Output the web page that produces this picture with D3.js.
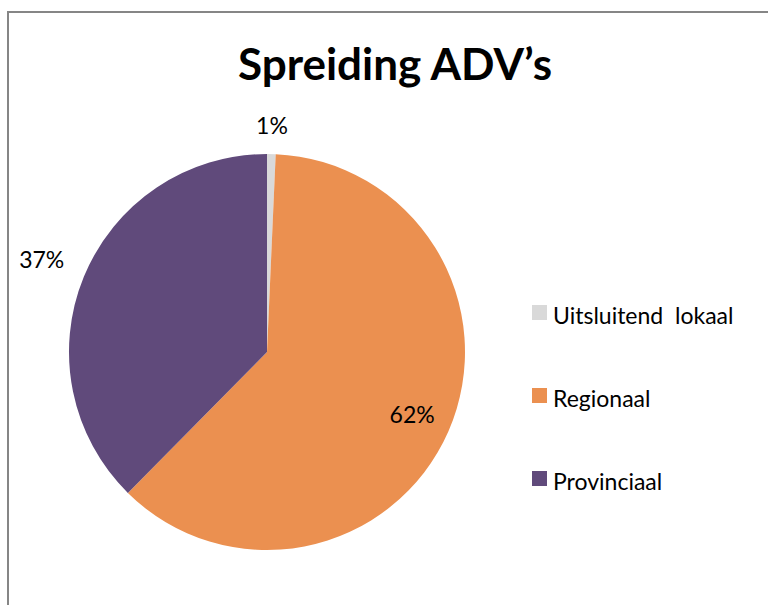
<!DOCTYPE html>
<html>
<head>
<meta charset="utf-8">
<script src="https://cdn.jsdelivr.net/npm/d3@7"></script>
<style>
  body { margin: 0; background: #fff; }
  svg { display: block; }
  text { font-family: Lato, "Open Sans", sans-serif; fill: #000; }
</style>
</head>
<body>
<svg width="768" height="605"></svg>
<script>
// data
const categories = ["Uitsluitend  lokaal", "Regionaal", "Provinciaal"];
const values = [0.7, 61.7, 37.6];
const pctLabels = ["1%", "62%", "37%"];
const colors = ["#d9d9d9", "#eb9050", "#604a7b"];

const width = 768, height = 605;
const cx = 267, cy = 352, radius = 198;

const svg = d3.select("svg");

// chart border (runs off the right and bottom)
svg.append("rect")
    .attr("x", 8)
    .attr("y", 12)
    .attr("width", 800)
    .attr("height", 650)
    .attr("fill", "none")
    .attr("stroke", "#868686")
    .attr("stroke-width", 2)

// title
svg.append("text")
    .attr("x", 395)
    .attr("y", 80)
    .attr("text-anchor", "middle")
    .attr("font-size", "44px")
    .attr("font-weight", "bold")
    .text("Spreiding ADV\u2019s")

const data = categories.map((c, i) => ({cat: c, value: values[i], label: pctLabels[i], color: colors[i]}));

const pie = d3.pie()
    .sort(null)
    .value(d => d.value);

const arc = d3.arc()
    .innerRadius(0)
    .outerRadius(radius);

const g = svg.append("g")
    .attr("transform", `translate(${cx}, ${cy})`)

const arcs = pie(data);

g.selectAll("path")
    .data(arcs)
    .enter().append("path")
    .attr("d", arc)
    .attr("fill", d => d.data.color)

// labels: inside for the big slice, outside for the others
const labelRadius = [1.14, 0.8, 1.23];
g.selectAll("text.pct")
    .data(arcs)
    .enter().append("text")
    .attr("class", "pct")
    .attr("transform", (d, i) => {
        const r = radius * labelRadius[i];
        const la = d3.arc().innerRadius(r).outerRadius(r);
        const [x, y] = la.centroid(d);
        return `translate(${x}, ${y})`;
    })
    .attr("text-anchor", "middle")
    .attr("dy", "0.35em")
    .attr("font-size", "23px")
    .text(d => d.data.label)

// legend
const legend = svg.append("g")
    .attr("transform", "translate(532, 305)")

const legendStep = 83;
legend.selectAll("rect")
    .data(data)
    .enter().append("rect")
    .attr("x", 0)
    .attr("y", (d, i) => i * legendStep)
    .attr("width", 15)
    .attr("height", 15)
    .attr("fill", d => d.color)

legend.selectAll("text")
    .data(data)
    .enter().append("text")
    .attr("x", 21)
    .attr("y", (d, i) => i * legendStep + 19)
    .attr("font-size", "23px")
    .style("white-space", "pre")
    .text(d => d.cat)
</script>
</body>
</html>
